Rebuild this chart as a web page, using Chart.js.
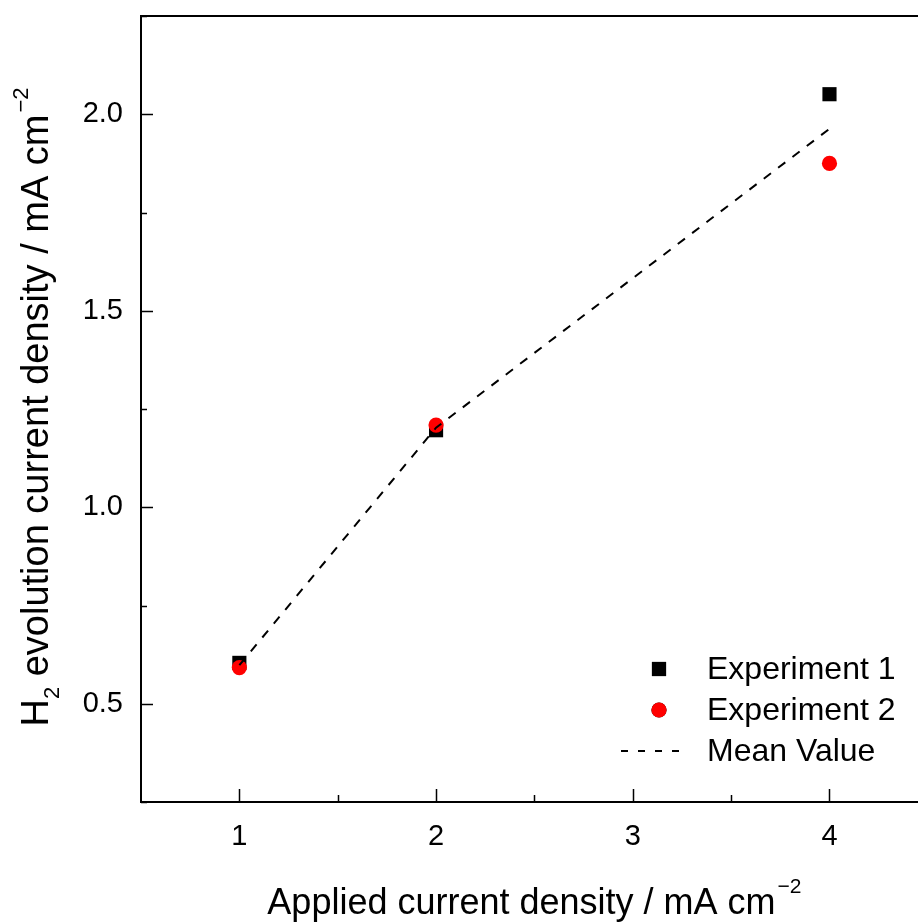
<!DOCTYPE html>
<html>
<head>
<meta charset="utf-8">
<script src="https://cdn.jsdelivr.net/npm/chart.js@4.4.1/dist/chart.umd.min.js"></script>
<style>
  body { margin: 0; background: #fff; }
  canvas { display: block; }
</style>
</head>
<body>
<canvas id="h2chart" width="918" height="923"></canvas>
<script>
// values
const applied = [1, 2, 4];
const exp1 = [0.604, 1.196, 2.051];
const exp2 = [0.592, 1.209, 1.875];
const meanValue = [0.598, 1.2025, 1.963];

const xMajor = [1, 2, 3, 4];
const xMinor = [1.5, 2.5, 3.5, 4.5];
const yMajor = [0.5, 1.0, 1.5, 2.0];
const yMinor = [0.25, 0.75, 1.25, 1.75, 2.25];

const FONT = "'Liberation Sans', Arial, sans-serif";

function pts(ys) {
    return applied.map((x, i) => ({ x: x, y: ys[i] }));
}

// draws a string made of pieces (sub/superscripts) centred on 0
function drawPieces(ctx, pieces) {
    let total = 0;
    pieces.forEach(p => {
        ctx.font = p.size + 'px ' + FONT;
        p.w = ctx.measureText(p.t).width;
        total += p.w + (p.gap || 0);
    });
    let x = -total / 2;
    pieces.forEach(p => {
        ctx.font = p.size + 'px ' + FONT;
        x += (p.gap || 0);
        ctx.fillText(p.t, x, p.dy || 0);
        x += p.w;
    });
}

// frame, inward ticks, axis titles
const framePlugin = {
    id: 'frame',
    afterDraw(chart) {
        const ctx = chart.ctx;
        const a = chart.chartArea;
        const xs = chart.scales.x, ys = chart.scales.y;
        ctx.save();
        ctx.strokeStyle = '#000';
        ctx.lineWidth = 2;
        ctx.beginPath();
        ctx.moveTo(chart.width, a.top);
        ctx.lineTo(a.left, a.top);
        ctx.lineTo(a.left, a.bottom);
        ctx.lineTo(chart.width, a.bottom);
        ctx.stroke();

        ctx.lineWidth = 1.5;
        ctx.beginPath();
        xMajor.forEach(v => {
            const px = Math.round(xs.getPixelForValue(v)) + 0.5;
            ctx.moveTo(px, a.bottom); ctx.lineTo(px, a.bottom - 13);
        });
        xMinor.forEach(v => {
            const px = Math.round(xs.getPixelForValue(v)) + 0.5;
            ctx.moveTo(px, a.bottom); ctx.lineTo(px, a.bottom - 7);
        });
        yMajor.forEach(v => {
            const py = Math.round(ys.getPixelForValue(v)) + 0.5;
            ctx.moveTo(a.left, py); ctx.lineTo(a.left + 12, py);
        });
        yMinor.forEach(v => {
            const py = Math.round(ys.getPixelForValue(v)) + 0.5;
            ctx.moveTo(a.left, py); ctx.lineTo(a.left + 6, py);
        });
        ctx.stroke();

        // axis titles
        ctx.fillStyle = '#000';
        ctx.textBaseline = 'alphabetic';
        ctx.textAlign = 'left';
        ctx.save();
        ctx.translate(xs.getPixelForValue(2.5), 914);
        drawPieces(ctx, [
            { t: 'Applied current density / mA cm', size: 36 },
            { t: '\u22122', size: 21, dy: -21, gap: 2 }
        ]);
        ctx.restore();

        ctx.save();
        ctx.translate(48, (a.top + a.bottom) / 2 - 2);
        ctx.rotate(-Math.PI / 2);
        drawPieces(ctx, [
            { t: 'H', size: 38 },
            { t: '2', size: 22, dy: 11 },
            { t: ' evolution current density / mA cm', size: 38 },
            { t: '\u22122', size: 22, dy: -20, gap: 2 }
        ]);
        ctx.restore();
        ctx.restore();
    }
};

// legend inside the plot, lower right
const legendPlugin = {
    id: 'innerLegend',
    afterDraw(chart) {
        const ctx = chart.ctx;
        const rows = [669, 710, 751];
        const mx = 659, tx = 707;
        ctx.save();
        ctx.fillStyle = '#000';
        ctx.font = '32px ' + FONT;
        ctx.textBaseline = 'middle';
        ctx.textAlign = 'left';
        [0, 1, 2].forEach(i => {
            const ds = chart.data.datasets[i];
            const y = rows[i];
            if (ds.showLine) {
                ctx.strokeStyle = ds.borderColor;
                ctx.lineWidth = ds.borderWidth;
                ctx.setLineDash([7, 10]);
                ctx.beginPath();
                ctx.moveTo(621, y); ctx.lineTo(685, y);
                ctx.stroke();
                ctx.setLineDash([]);
            } else {
                Chart.helpers.drawPoint(ctx, {
                    pointStyle: ds.pointStyle,
                    radius: ds.pointRadius,
                    rotation: 0,
                    borderWidth: 0
                }, mx, y);
                ctx.fillStyle = ds.backgroundColor;
                ctx.fill();
            }
            ctx.fillStyle = '#000';
            ctx.fillText(ds.label, tx, y + 1);
        });
        ctx.restore();
    }
};

new Chart(document.getElementById('h2chart'), {
    type: 'scatter',
    data: {
        datasets: [
            {
                label: 'Experiment 1',
                data: pts(exp1),
                pointStyle: 'rect',
                pointRadius: 10,
                backgroundColor: '#000',
                borderWidth: 0,
                order: 3
            },
            {
                label: 'Experiment 2',
                data: pts(exp2),
                pointStyle: 'circle',
                pointRadius: 7.6,
                backgroundColor: '#ff0000',
                borderWidth: 0,
                order: 2
            },
            {
                label: 'Mean Value',
                data: pts(meanValue),
                showLine: true,
                pointRadius: 0,
                borderColor: '#000',
                borderWidth: 2,
                borderDash: [9, 9],
                fill: false,
                order: 1
            }
        ]
    },
    options: {
        responsive: false,
        animation: false,
        devicePixelRatio: 1,
        layout: {
            autoPadding: false,
            padding: { left: 0, top: 16, right: 0, bottom: 0 }
        },
        plugins: {
            legend: { display: false },
            tooltip: { enabled: false }
        },
        scales: {
            x: {
                type: 'linear',
                min: 0.5,
                max: 4.45,
                grid: { display: false, drawTicks: false },
                border: { display: false },
                afterBuildTicks: s => { s.ticks = xMajor.map(v => ({ value: v })); },
                afterFit: s => {
                    s.height = 121;
                    s.paddingLeft = 0; s.paddingRight = 0;
                },
                ticks: {
                    padding: 18,
                    color: '#000',
                    font: { family: FONT, size: 29 },
                    callback: v => String(v)
                }
            },
            y: {
                type: 'linear',
                min: 0.25,
                max: 2.25,
                grid: { display: false, drawTicks: false },
                border: { display: false },
                afterBuildTicks: s => { s.ticks = yMajor.map(v => ({ value: v })); },
                afterFit: s => {
                    s.width = 141;
                    s.paddingTop = 0; s.paddingBottom = 0;
                },
                ticks: {
                    padding: 18,
                    color: '#000',
                    font: { family: FONT, size: 29 },
                    callback: v => v.toFixed(1)
                }
            }
        }
    },
    plugins: [framePlugin, legendPlugin]
});
</script>
</body>
</html>
